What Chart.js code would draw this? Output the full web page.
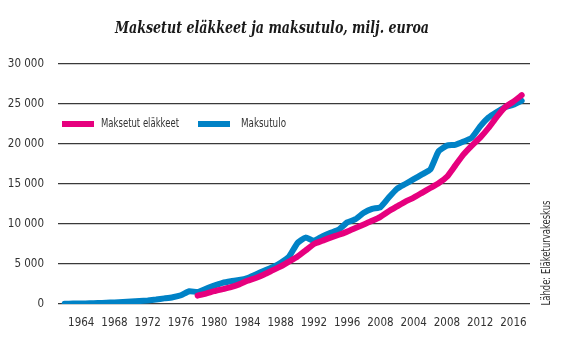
<!DOCTYPE html>
<html>
<head>
<meta charset="utf-8">
<script src="https://cdn.jsdelivr.net/npm/chart.js@4.4.1/dist/chart.umd.min.js"></script>
<style>
  html, body { margin: 0; padding: 0; background: #ffffff; }
  #wrap { width: 570px; height: 352px; position: relative; }
</style>
</head>
<body>
<div id="wrap"><canvas id="c" width="570" height="352"></canvas></div>
<script>
// ---- Data ----
const titleText = 'Maksetut eläkkeet ja maksutulo, milj. euroa';
const sourceText = 'Lähde: Eläketurvakeskus';
const seriesNames = ['Maksetut eläkkeet', 'Maksutulo'];

const incomeYears = [1962,1963,1964,1965,1966,1967,1968,1969,1970,1971,1972,1973,1974,1975,1976,1977,1978,1979,1980,1981,1982,1983,1984,1985,1986,1987,1988,1989,1990,1991,1992,1993,1994,1995,1996,1997,1998,1999,2000,2001,2002,2003,2004,2005,2006,2007,2008,2009,2010,2011,2012,2013,2014,2015,2016,2017];
const incomeValues = [30,50,60,80,110,150,200,240,300,370,450,560,700,850,1100,1600,1500,1900,2300,2650,2850,3000,3250,3700,4150,4600,5150,5900,7600,8300,7900,8450,8900,9300,10200,10600,11400,11900,12100,13300,14400,15000,15600,16200,16800,19100,19800,19900,20300,20800,22200,23300,24000,24600,24900,25400];

const pensionYears = [1978,1979,1980,1981,1982,1983,1984,1985,1986,1987,1988,1989,1990,1991,1992,1993,1994,1995,1996,1997,1998,1999,2000,2001,2002,2003,2004,2005,2006,2007,2008,2009,2010,2011,2012,2013,2014,2015,2016,2017];
const pensionValues = [1050,1300,1600,1850,2100,2450,2900,3250,3700,4200,4700,5300,5900,6700,7500,7900,8300,8650,9050,9500,9950,10400,10900,11600,12200,12800,13300,13900,14500,15100,15900,17300,18700,19800,20800,22000,23400,24600,25300,26100];

const xTickValues = [1964,1968,1972,1976,1980,1984,1988,1992,1996,2000,2004,2008,2012,2016];
const xTickLabels = ['1964','1968','1972','1976','1980','1984','1988','1992','1996','2008','2004','2008','2012','2016'];
const yTickValues = [0,5000,10000,15000,20000,25000,30000];

// ---- Styles ----
const PINK = '#E6007E';
const BLUE = '#0082C6';
const TEXT = '#333333';
const LABEL_FONT = "'Liberation Sans Narrow', 'DejaVu Sans Condensed', 'Roboto', sans-serif";

function fmtThousands(v) {
  const s = String(Math.round(v));
  return s.replace(/\B(?=(\d{3})+(?!\d))/g, ' ');
}

// draw text squeezed horizontally to a target width (condensed look)
function drawFitted(ctx, text, x, y, width, align) {
  const w = ctx.measureText(text).width;
  const k = Math.min(1, width / w);
  ctx.save();
  ctx.translate(x, y);
  ctx.scale(k, 1);
  ctx.textAlign = align;
  ctx.fillText(text, 0, 0);
  ctx.restore();
}

const overlayPlugin = {
  id: 'overlay',
  afterDraw(chart) {
    const ctx = chart.ctx;
    ctx.save();
    // Title
    ctx.fillStyle = '#1a1a1a';
    ctx.textBaseline = 'alphabetic';
    ctx.font = "italic bold 16px 'DejaVu Serif', serif";
    drawFitted(ctx, titleText, 272, 33, 314, 'center');

    // Legend
    const ly = 124;
    ctx.fillStyle = PINK;
    ctx.fillRect(62, ly - 3, 32, 6);
    ctx.fillStyle = BLUE;
    ctx.fillRect(198, ly - 3, 32, 6);
    ctx.fillStyle = TEXT;
    ctx.textBaseline = 'middle';
    ctx.font = '13px ' + LABEL_FONT;
    drawFitted(ctx, seriesNames[0], 101, ly, 78, 'left');
    drawFitted(ctx, seriesNames[1], 241, ly, 45, 'left');

    // Source (rotated)
    ctx.translate(547, 253);
    ctx.rotate(-Math.PI / 2);
    ctx.textBaseline = 'middle';
    drawFitted(ctx, sourceText, 0, 0, 105, 'center');
    ctx.restore();
  }
};

const pensionData = pensionYears.map((y, i) => ({ x: y, y: pensionValues[i] }));
const incomeData = incomeYears.map((y, i) => ({ x: y, y: incomeValues[i] }));

new Chart(document.getElementById('c'), {
  type: 'line',
  data: {
    datasets: [
      {
        label: seriesNames[0],
        data: pensionData,
        borderColor: PINK,
        backgroundColor: PINK,
        borderWidth: 6,
        borderCapStyle: 'round',
        borderJoinStyle: 'round',
        pointRadius: 0,
        tension: 0.15,
        order: 0
      },
      {
        label: seriesNames[1],
        data: incomeData,
        borderColor: BLUE,
        backgroundColor: BLUE,
        borderWidth: 6,
        borderCapStyle: 'round',
        borderJoinStyle: 'round',
        pointRadius: 0,
        tension: 0.15,
        order: 1
      }
    ]
  },
  options: {
    responsive: false,
    animation: false,
    devicePixelRatio: 1,
    layout: { padding: { left: 0, right: 40, top: 64, bottom: 0 } },
    plugins: {
      legend: { display: false },
      title: { display: false },
      tooltip: { enabled: false }
    },
    scales: {
      x: {
        type: 'linear',
        min: 1961.2,
        max: 2018.0,
        grid: { display: false, drawTicks: false },
        border: { display: false },
        afterBuildTicks(scale) { scale.ticks = xTickValues.map(v => ({ value: v })); },
        afterFit(scale) { scale.height = 48; },
        ticks: {
          color: TEXT,
          font: { family: LABEL_FONT, size: 11.5 },
          padding: 12,
          maxRotation: 0,
          autoSkip: false,
          callback: (v, i) => xTickLabels[i]
        }
      },
      y: {
        min: 0,
        max: 30000,
        afterBuildTicks(scale) { scale.ticks = yTickValues.map(v => ({ value: v })); },
        afterFit(scale) { scale.width = 58; },
        grid: { color: '#3a3a3a', lineWidth: 1.3, drawTicks: false },
        border: { display: false },
        ticks: {
          color: TEXT,
          font: { family: LABEL_FONT, size: 11.5 },
          padding: 14,
          callback: v => fmtThousands(v)
        }
      }
    }
  },
  plugins: [overlayPlugin]
});
</script>
</body>
</html>
